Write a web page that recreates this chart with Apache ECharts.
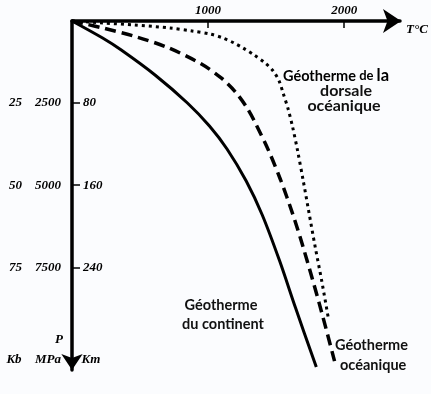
<!DOCTYPE html>
<html><head><meta charset="utf-8">
<script src="https://cdn.jsdelivr.net/npm/echarts@6/dist/echarts.min.js"></script>
<style>html,body{margin:0;padding:0;background:#fff}#c{width:431px;height:394px}</style>
</head><body><div id="c"></div>
<script>
// ---- data ----
const tempTicks = [1000, 2000];          // °C tick labels
const depthTicks = [80, 160, 240];       // km tick labels
const kbLabels = ['25', '50', '75'];
const mpaLabels = ['2500', '5000', '7500'];

// Géotherme du continent (solid)
const continentTemp  = [0, 225, 362, 610, 848, 1010, 1139, 1280, 1398, 1526, 1643, 1795];
const continentDepth = [0, 16.6, 28.3, 52.6, 79.9, 102.3, 124.7, 155.9, 189, 233.9, 279.7, 337.1];

// Géotherme océanique (dashed)
const oceanTemp  = [0, 100, 226, 464, 703, 951, 1096, 1201, 1277, 1336, 1446, 1533, 1622, 1698, 1818, 1929];
const oceanDepth = [0, 2.9, 6.8, 15.1, 25.8, 41.9, 55.5, 69.2, 82.8, 96.5, 126.7, 154.9, 188.1, 220.2, 275.8, 331.3];

// Géotherme de la dorsale océanique (dotted)
const ridgeTemp  = [0, 228, 456, 721, 882, 1015, 1110, 1191, 1257, 1338, 1419, 1478, 1522, 1551, 1588, 1621, 1658, 1698, 1739, 1787, 1835, 1882];
const ridgeDepth = [0, 1.9, 3.9, 6.8, 9.7, 12.7, 16.6, 21.4, 26.3, 33.1, 40.9, 48.7, 58.5, 70.2, 85.7, 103.3, 126.7, 154.9, 185.1, 220.2, 253.3, 288.4];

const pairs = (xs, ys) => xs.map((x, i) => [x, ys[i]]);

const serifLbl = { fontFamily: 'Liberation Serif', fontStyle: 'italic', fontWeight: 'bold', fontSize: 13, color: '#000' };
const serifFont = 'italic bold 13px "Liberation Serif"';
const sans = 'Lato';

const chart = echarts.init(document.getElementById('c'), null, { renderer: 'canvas' });
const yBase = { type: 'value', min: 0, max: 340, inverse: true, position: 'left', splitLine: { show: false } };

chart.setOption({
  animation: false,
  backgroundColor: '#fbfcfe',
  grid: { left: 72, top: 21, width: 328, height: 349 },
  xAxis: {
    type: 'value', position: 'top', min: 0, max: 2410,
    splitLine: { show: false },
    axisLine: { show: true, lineStyle: { color: '#000', width: 3.5 }, symbol: ['none', 'arrow'], symbolSize: [18, 18], symbolOffset: [0, 1] },
    axisTick: { show: true, inside: true, length: 7, customValues: tempTicks, lineStyle: { color: '#000', width: 1.5 } },
    axisLabel: { show: true, customValues: tempTicks, margin: 4, formatter: v => String(v), ...serifLbl },
    name: 'T°C', nameLocation: 'end', nameGap: 6,
    nameTextStyle: { ...serifLbl, verticalAlign: 'top', padding: [2, 0, 0, 0] }
  },
  yAxis: [
    Object.assign({}, yBase, {
      axisLine: { show: true, lineStyle: { color: '#000', width: 3.5 }, symbol: ['arrow', 'none'], symbolSize: [16, 16], symbolOffset: [0, 0] },
      axisTick: { show: true, inside: true, length: 8, customValues: depthTicks, lineStyle: { color: '#000', width: 1.5 } },
      axisLabel: { show: true, inside: true, customValues: depthTicks, margin: 11, formatter: v => String(v), ...serifLbl }
    }),
    Object.assign({}, yBase, {
      axisLine: { show: false }, axisTick: { show: false },
      axisLabel: { show: true, customValues: depthTicks, margin: 11, formatter: v => mpaLabels[depthTicks.indexOf(v)], ...serifLbl }
    }),
    Object.assign({}, yBase, {
      axisLine: { show: false }, axisTick: { show: false },
      axisLabel: { show: true, customValues: depthTicks, margin: 50, formatter: v => kbLabels[depthTicks.indexOf(v)], ...serifLbl }
    })
  ],
  series: [
    { type: 'line', data: pairs(continentTemp, continentDepth), smooth: 0.3, showSymbol: false, clip: false,
      lineStyle: { color: '#000', width: 3 } },
    { type: 'line', data: pairs(oceanTemp, oceanDepth), smooth: 0.3, showSymbol: false, clip: false,
      lineStyle: { color: '#000', width: 3.5, type: [11, 6] } },
    { type: 'line', data: pairs(ridgeTemp, ridgeDepth), smooth: 0.3, showSymbol: false, clip: false,
      lineStyle: { color: '#000', width: 3, type: [3, 4] } }
  ],
  graphic: [
    { type: 'text', x: 59, y: 340, style: { text: 'P', font: serifFont, fill: '#000', textAlign: 'center', textVerticalAlign: 'middle' } },
    { type: 'text', x: 14, y: 360, style: { text: 'Kb', font: serifFont, fill: '#000', textAlign: 'center', textVerticalAlign: 'middle' } },
    { type: 'text', x: 48, y: 360, style: { text: 'MPa', font: serifFont, fill: '#000', textAlign: 'center', textVerticalAlign: 'middle' } },
    { type: 'text', x: 91, y: 360, style: { text: 'Km', font: serifFont, fill: '#000', textAlign: 'center', textVerticalAlign: 'middle' } },

    { type: 'text', x: 283, y: 76, style: {
        text: '{a|Géotherme}{b| de }{c|la}',
        rich: {
          a: { fontFamily: sans, fontWeight: 'bold', fontSize: 14.5, color: '#111' },
          b: { fontFamily: sans, fontWeight: 'bold', fontSize: 13, color: '#111' },
          c: { fontFamily: sans, fontWeight: 'bold', fontSize: 16.5, color: '#111' }
        },
        textAlign: 'left', textVerticalAlign: 'middle' } },
    { type: 'text', x: 346, y: 91, style: { text: 'dorsale', font: 'bold 16px Lato', fill: '#111', textAlign: 'center', textVerticalAlign: 'middle' } },
    { type: 'text', x: 344, y: 106, style: { text: 'océanique', font: 'bold 16px Lato', fill: '#111', textAlign: 'center', textVerticalAlign: 'middle' } },

    { type: 'text', x: 221, y: 305, style: { text: 'Géotherme', font: 'bold 14.5px Lato', fill: '#111', textAlign: 'center', textVerticalAlign: 'middle' } },
    { type: 'text', x: 223, y: 324, style: { text: 'du continent', font: 'bold 14.5px Lato', fill: '#111', textAlign: 'center', textVerticalAlign: 'middle' } },

    { type: 'text', x: 335, y: 345, style: { text: 'Géotherme', font: 'bold 14.5px Lato', fill: '#111', textAlign: 'left', textVerticalAlign: 'middle' } },
    { type: 'text', x: 340, y: 365, style: { text: 'océanique', font: 'bold 14.5px Lato', fill: '#111', textAlign: 'left', textVerticalAlign: 'middle' } }
  ]
});
</script>
</body></html>
